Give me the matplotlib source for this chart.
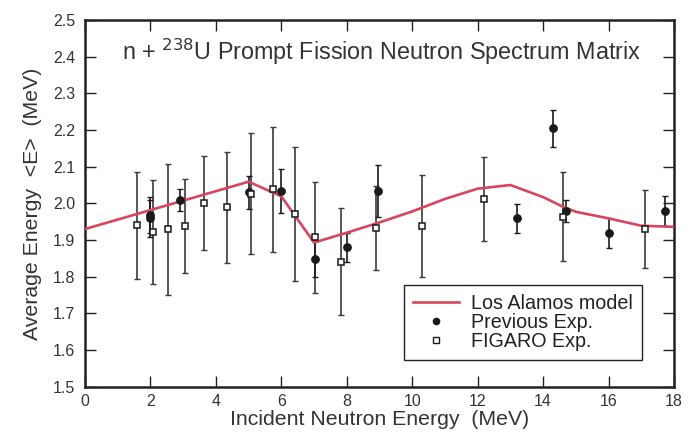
import matplotlib
matplotlib.use("Agg")
import matplotlib.pyplot as plt
import numpy as np

plt.rcParams['font.family'] = ['Liberation Sans', 'DejaVu Sans']

# Los Alamos model curve
model_x = [0, 5.0, 6.0, 7.0, 8.0, 9.0, 10.0, 11.0, 12.0, 13.0, 14.0, 14.6, 15.0, 16.0, 17.0, 18.0]
model_y = [1.930, 2.059, 2.019, 1.893, 1.920, 1.948, 1.978, 2.012, 2.040, 2.050, 2.017, 1.991, 1.977, 1.959, 1.939, 1.936]

# Previous experiments (filled circles)
prev_x = [2.0, 2.0, 2.89, 5.01, 6.0, 7.03, 8.02, 8.95, 13.21, 14.31, 14.71, 16.01, 17.73]
prev_y = [1.968, 1.959, 2.010, 2.030, 2.034, 1.848, 1.880, 2.034, 1.959, 2.205, 1.980, 1.919, 1.979]
prev_err = [0.05, 0.05, 0.03, 0.045, 0.06, 0.05, 0.04, 0.07, 0.04, 0.05, 0.03, 0.04, 0.04]

# FIGARO experiment (open squares)
fig_x = [1.58, 2.09, 2.54, 3.05, 3.65, 4.34, 5.06, 5.74, 6.42, 7.04, 7.81, 8.88, 10.31, 12.20, 14.61, 17.12]
fig_y = [1.940, 1.923, 1.929, 1.938, 2.000, 1.989, 2.026, 2.038, 1.971, 1.907, 1.841, 1.933, 1.938, 2.012, 1.964, 1.931]
fig_err = [0.146, 0.142, 0.178, 0.128, 0.128, 0.151, 0.165, 0.170, 0.183, 0.152, 0.146, 0.114, 0.138, 0.115, 0.121, 0.106]

x_ticks = [0, 2, 4, 6, 8, 10, 12, 14, 16, 18]
y_ticks = [1.5, 1.6, 1.7, 1.8, 1.9, 2.0, 2.1, 2.2, 2.3, 2.4, 2.5]

fig = plt.figure(figsize=(6.93, 4.34), dpi=100)
ax = fig.add_axes([85/693, 1-386.7/434, (674-85)/693, (386.7-20)/434])

ax.errorbar(fig_x, fig_y, yerr=fig_err, fmt='none', ecolor='#3a3a3a', elinewidth=1.2, capsize=2.0, capthick=1.0, zorder=2)
ax.errorbar(prev_x, prev_y, yerr=prev_err, fmt='none', ecolor='#1a1a1a', elinewidth=1.2, capsize=2.0, capthick=1.0, zorder=2)
ax.plot(model_x, model_y, color='#d8455e', lw=1.9, zorder=3)
ax.plot(prev_x, prev_y, 'o', color='#1a1a1a', ms=5.3, ls='none', zorder=4)
ax.plot(fig_x, fig_y, 's', mfc='white', mec='#1a1a1a', mew=1.1, ms=5.0, ls='none', zorder=5)

# legend proxies
h1, = ax.plot([], [], color='#d8455e', lw=1.9)
h2, = ax.plot([], [], 'o', color='#1a1a1a', ms=4.5, ls='none')
h3, = ax.plot([], [], 's', mfc='white', mec='#1a1a1a', mew=1.0, ms=4, ls='none')
leg = ax.legend([h1, h2, h3], ['Los Alamos model', 'Previous Exp.', 'FIGARO Exp.'],
                loc='upper right', bbox_to_anchor=(0.946, 0.277), fontsize=14.2,
                frameon=True, fancybox=False, edgecolor='#222222', framealpha=1,
                handlelength=2.3, labelspacing=0.0, borderpad=0.45, handletextpad=0.65,
                borderaxespad=0)
leg.get_frame().set_linewidth(1.0)
for t in leg.get_texts():
    t.set_color('#222222')

ax.set_xlim(0, 18)
ax.set_ylim(1.5, 2.5)
ax.set_xticks(x_ticks)
ax.set_xticklabels([str(v) for v in x_ticks])
ax.set_yticks(y_ticks)
ax.set_yticklabels([f"{v:.1f}" for v in y_ticks])
ax.tick_params(direction='in', length=8, width=1.0, top=True, right=True,
               labelsize=11.5, colors='#222222', labelcolor='#333333')
ax.tick_params(axis='y', pad=7)
ax.tick_params(axis='x', pad=5)
for s in ax.spines.values():
    s.set_linewidth(1.8)
    s.set_color('#222222')

ax.set_xlabel('Incident Neutron Energy  (MeV)', fontsize=15.3, color='#333333', labelpad=1)
ax.set_ylabel('Average Energy  <E>  (MeV)', fontsize=15.3, color='#333333', labelpad=8)

ax.text(0.503, 0.913, r'n + $^{238}$U Prompt Fission Neutron Spectrum Matrix',
        transform=ax.transAxes, ha='center', va='center', fontsize=16.8, color='#333333')

fig.savefig('out.png', dpi=100)
